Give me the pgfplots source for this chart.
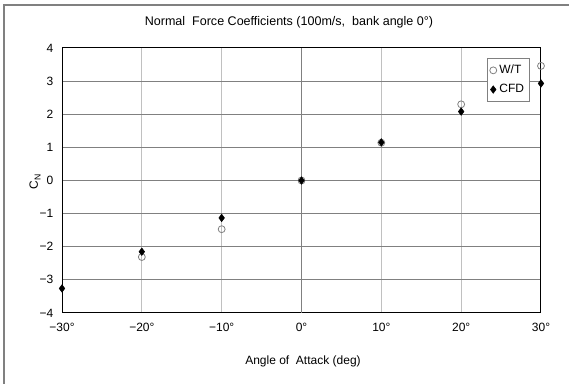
\documentclass[border=0pt]{standalone}
\usepackage{pgfplots}
\pgfplotsset{compat=1.18}
\usepackage{fontspec}
\setmainfont{Liberation Sans}
\definecolor{hgrid}{HTML}{808080}
\definecolor{vgrid}{HTML}{C0C0C0}
\definecolor{frame}{HTML}{808080}
\begin{document}
\begin{tikzpicture}[x=0.75pt,y=0.75pt]
\useasboundingbox (0,0) rectangle (569,384);
\fill[white] (0,0) rectangle (569,384);
\draw[frame, line width=1.6pt] (4,0) -- (4,379) -- (569,379);
\node[font=\fontsize{9.4}{11}\selectfont] at (289,362) {Normal\ \ Force Coefficients (100m/s,\ \ bank angle 0°)};
\node[font=\fontsize{9}{10}\selectfont] at (303,23) {Angle of\ \ Attack (deg)};
\node[font=\fontsize{9}{10}\selectfont, rotate=90] at (35,202) {C\raisebox{-0.45ex}{\fontsize{6.5}{7}\selectfont N}};
\begin{axis}[
  at={(46.5pt,53.25pt)}, anchor=south west,
  scale only axis, width=359.25pt, height=198.75pt,
  xmin=-30, xmax=30, ymin=-4, ymax=4,
  xtick={-30,-20,-10,0,10,20,30},
  xticklabels={−30°,−20°,−10°,0°,10°,20°,30°},
  ytick={-4,-3,-2,-1,0,1,2,3,4},
  yticklabels={−4,−3,−2,−1,0,1,2,3,4},
  major tick length=0pt,
  xmajorgrids, ymajorgrids,
  major x grid style={vgrid, line width=0.75pt},
  major y grid style={hgrid, line width=0.75pt},
  axis line style={black, line width=0.75pt},
  tick label style={font=\fontsize{9}{10}\selectfont},
  xticklabel style={yshift=-4pt},
  yticklabel style={xshift=-3pt},
  clip=false,
  legend style={at={(0.887,0.962)}, anchor=north west, draw=gray, fill=white,
    font=\fontsize{9}{10}\selectfont, inner xsep=2pt, inner ysep=3pt, row sep=2.5pt,
    legend cell align=left, /tikz/every even column/.style={column sep=0pt}},
  legend image code/.code={\path[#1] plot coordinates {(0.1cm,0pt)};},
]
\addplot[hgrid, line width=0.75pt, forget plot] coordinates {(0,-4) (0,4)};
\addplot[only marks, mark=o, mark size=2.6pt, draw=gray, line width=0.6pt]
  coordinates {(-20,-2.31) (-10,-1.47) (0,0) (10,1.14) (20,2.30) (30,3.46)};
\addlegendentry{W/T}
\addplot[only marks, mark=diamond*, mark size=2.8pt, draw=black, fill=black]
  coordinates {(-30,-3.26) (-20,-2.15) (-10,-1.13) (0,0) (10,1.15) (20,2.08) (30,2.93)};
\addlegendentry{CFD}
\end{axis}
\end{tikzpicture}
\end{document}
